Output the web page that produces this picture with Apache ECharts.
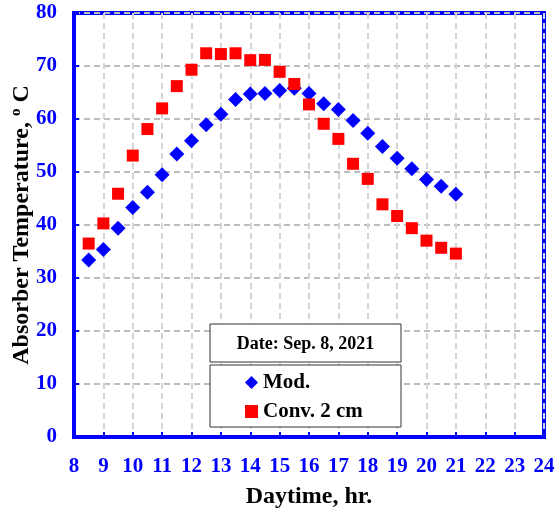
<!DOCTYPE html>
<html>
<head>
<meta charset="utf-8">
<script src="https://cdn.jsdelivr.net/npm/echarts@6/dist/echarts.min.js"></script>
<style>
  html, body { margin: 0; padding: 0; background: #fff; }
  #chart { width: 556px; height: 510px; }
</style>
</head>
<body>
<div id="chart"></div>
<script>
// Hour of day for each reading
const hours = [8.5, 9, 9.5, 10, 10.5, 11, 11.5, 12, 12.5, 13, 13.5, 14, 14.5, 15, 15.5, 16, 16.5, 17, 17.5, 18, 18.5, 19, 19.5, 20, 20.5, 21];
// Absorber temperature, modified collector (°C)
const modTemp = [33.4, 35.4, 39.4, 43.3, 46.2, 49.5, 53.4, 55.9, 58.9, 60.9, 63.7, 64.7, 64.8, 65.4, 65.8, 64.8, 62.9, 61.8, 59.7, 57.3, 54.8, 52.6, 50.6, 48.6, 47.3, 45.8];
// Absorber temperature, conventional collector, 2 cm (°C)
const convTemp = [36.5, 40.3, 45.9, 53.1, 58.1, 62.0, 66.2, 69.3, 72.4, 72.25, 72.4, 71.1, 71.15, 68.9, 66.6, 62.75, 59.1, 56.25, 51.55, 48.7, 43.9, 41.7, 39.4, 37.05, 35.7, 34.6];
// Axis tick labels
const xTicks = [8, 9, 10, 11, 12, 13, 14, 15, 16, 17, 18, 19, 20, 21, 22, 23, 24];
const yTicks = [0, 10, 20, 30, 40, 50, 60, 70, 80];

const seriesNames = ['Mod.', 'Conv. 2 cm'];
const dateLabel = 'Date: Sep. 8, 2021';

const serif = '"Liberation Serif", "Times New Roman", serif';
const blue = '#0000ff';

const chart = echarts.init(document.getElementById('chart'), null, { renderer: 'canvas' });

const pairs = (xs, ys) => xs.map((x, i) => [x, ys[i]]);

chart.setOption({
  backgroundColor: '#ffffff',
  animation: false,
  grid: {
    left: 74, right: 12, top: 13, bottom: 73,
    containLabel: false,
    outerBoundsMode: 'none',
    show: true, borderColor: blue, borderWidth: 4, backgroundColor: 'transparent'
  },
  xAxis: {
    type: 'value',
    min: xTicks[0], max: xTicks[xTicks.length - 1], interval: 1,
    name: 'Daytime, hr.',
    nameLocation: 'middle',
    nameGap: 48,
    nameMoveOverlap: false,
    nameTextStyle: { fontFamily: serif, fontWeight: 'bold', fontSize: 24, color: '#000' },
    axisLine: { show: true, onZero: false, lineStyle: { color: blue, width: 4 } },
    axisTick: { show: true, inside: true, length: 5, lineStyle: { color: blue, width: 2 } },
    axisLabel: { fontFamily: serif, fontWeight: 'bold', fontSize: 21, color: blue, margin: 19 },
    splitLine: { show: true, lineStyle: { color: '#d4d4d4', width: 2, type: [6, 4] } }
  },
  yAxis: {
    type: 'value',
    min: yTicks[0], max: yTicks[yTicks.length - 1], interval: 10,
    name: '{t|Absorber Temperature, }{s|o}{t| C}',
    nameLocation: 'middle',
    nameGap: 40,
    nameRotate: 90,
    nameMoveOverlap: false,
    nameTextStyle: {
      rich: {
        t: { fontFamily: serif, fontWeight: 'bold', fontSize: 24, color: '#000' },
        s: { fontFamily: serif, fontWeight: 'bold', fontSize: 15, color: '#000', verticalAlign: 'top', padding: [0, 0, 10, 0] }
      }
    },
    axisLine: { show: true, onZero: false, lineStyle: { color: blue, width: 4 } },
    axisTick: { show: true, inside: true, length: 5, lineStyle: { color: blue, width: 2 } },
    axisLabel: { fontFamily: serif, fontWeight: 'bold', fontSize: 21, color: blue, margin: 17 },
    splitLine: { show: true, lineStyle: { color: '#bdbdbd', width: 2, type: [6, 4] } }
  },
  legend: {
    orient: 'vertical',
    left: 245, top: 372,
    itemGap: 8,
    itemWidth: 13, itemHeight: 13,
    padding: 0,
    z: 20,
    textStyle: { fontFamily: serif, fontWeight: 'bold', fontSize: 21, color: '#000' },
    data: [
      { name: seriesNames[0], icon: 'diamond' },
      { name: seriesNames[1], icon: 'rect' }
    ]
  },
  graphic: [
    {
      type: 'rect', z: 10,
      shape: { x: 210, y: 324, width: 191, height: 38 },
      style: { fill: '#fff', stroke: '#333', lineWidth: 1 }
    },
    {
      type: 'text', z: 11,
      x: 305.5, y: 344,
      style: {
        text: dateLabel, fill: '#000', align: 'center', verticalAlign: 'middle',
        font: 'bold 18px ' + serif
      }
    },
    {
      type: 'rect', z: 10,
      shape: { x: 210, y: 365, width: 191, height: 62 },
      style: { fill: '#fff', stroke: '#333', lineWidth: 1 }
    }
  ],
  series: [
    {
      name: seriesNames[0],
      type: 'scatter',
      symbol: 'diamond',
      symbolSize: [15, 15],
      itemStyle: { color: blue, opacity: 1 },
      data: pairs(hours, modTemp)
    },
    {
      name: seriesNames[1],
      type: 'scatter',
      symbol: 'rect',
      symbolSize: [12, 12],
      itemStyle: { color: '#ff0000', opacity: 1 },
      data: pairs(hours, convTemp)
    }
  ]
});
</script>
</body>
</html>
